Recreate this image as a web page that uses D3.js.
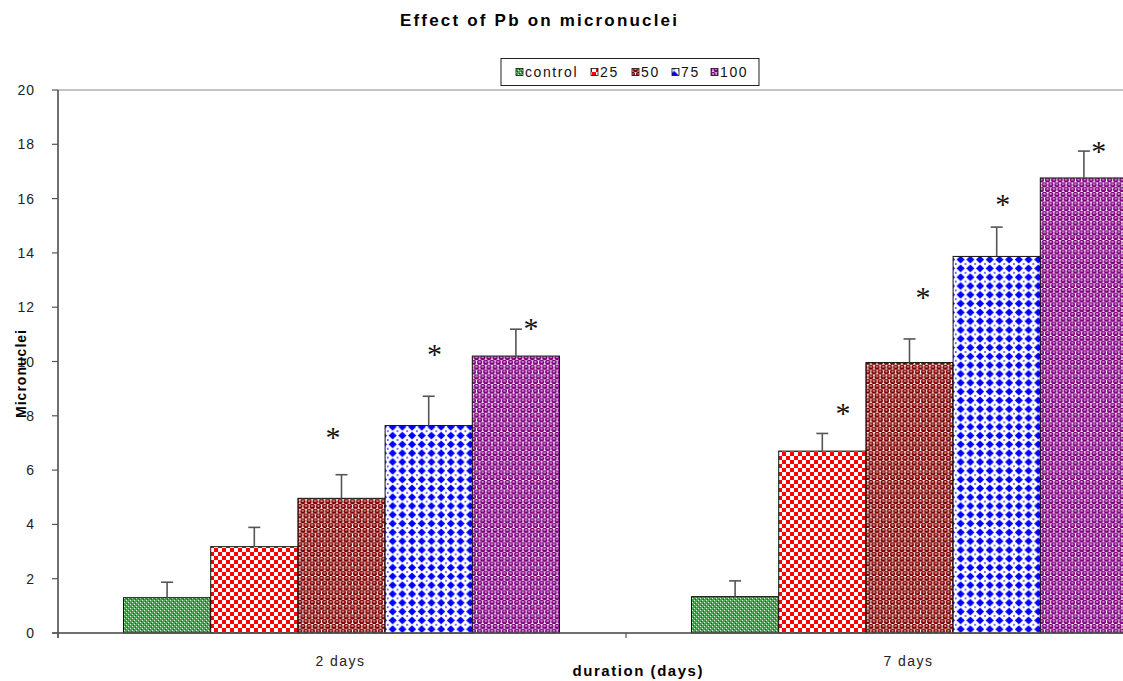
<!DOCTYPE html>
<html>
<head>
<meta charset="utf-8">
<script src="https://cdn.jsdelivr.net/npm/d3@7/dist/d3.min.js"></script>
<style>
  html, body { margin: 0; padding: 0; background: #fff; }
  svg { display: block; }
</style>
</head>
<body>
<svg id="chart" width="1123" height="681"></svg>
<script>
// ---------------- data ----------------
const categories = ["2 days", "7 days"];
const seriesNames = ["control", "25", "50", "75", "100"];
const means2days = [1.30, 3.18, 4.96, 7.64, 10.20];
const means7days = [1.34, 6.70, 9.96, 13.87, 16.76];
const err2days = [0.57, 0.71, 0.87, 1.08, 0.99];
const err7days = [0.58, 0.65, 0.87, 1.08, 0.99];
const star2days = [null, null, 7.41, 10.49, 11.43];
const star7days = [null, 8.31, 12.57, 16.01, 17.97];
const yTicks = [0, 2, 4, 6, 8, 10, 12, 14, 16, 18, 20];

// ---------------- layout / style ----------------
const plotLeft = 58, plotTop = 90, plotBottom = 633, plotRight = 1194;
const starDx = [[0, 0, -8.6, 5.7, 15.1], [0, 20.8, 13.4, 6.1, 14.8]];
const legendX = [516, 591, 632, 672, 711];

const table = categories.map((c, ci) => ({
  cat: c,
  values: seriesNames.map((s, si) => ({
    series: s, si, ci,
    mean: ci === 0 ? means2days[si] : means7days[si],
    err: ci === 0 ? err2days[si] : err7days[si],
    star: ci === 0 ? star2days[si] : star7days[si]
  }))
}));

const svg = d3.select("#chart");

// ---------------- patterns ----------------
const defs = svg.append("defs");
(function () {
  const p = defs.append("pattern").attr("id", "pat0").attr("patternUnits", "userSpaceOnUse")
    .attr("width", 4).attr("height", 4);
  p.append("rect").attr("width", 4).attr("height", 4).attr("fill", "#46a846");
  p.append("rect").attr("x", 0).attr("y", 0).attr("width", 1).attr("height", 1).attr("fill", "#dff3df");
  p.append("rect").attr("x", 2).attr("y", 2).attr("width", 1).attr("height", 1).attr("fill", "#dff3df");
  p.append("rect").attr("x", 1).attr("y", 3).attr("width", 1).attr("height", 1).attr("fill", "#0a700a");
  p.append("rect").attr("x", 3).attr("y", 1).attr("width", 1).attr("height", 1).attr("fill", "#0a700a");
})();
(function () {
  const p = defs.append("pattern").attr("id", "pat1").attr("patternUnits", "userSpaceOnUse")
    .attr("width", 8).attr("height", 8);
  p.append("rect").attr("width", 8).attr("height", 8).attr("fill", "#ffffff");
  p.append("rect").attr("x", 0).attr("y", 0).attr("width", 4).attr("height", 4).attr("fill", "#ff0000");
  p.append("rect").attr("x", 4).attr("y", 4).attr("width", 4).attr("height", 4).attr("fill", "#ff0000");
})();
function bubbles(id, col, hi) {
  const w = 6.2, h = 9.6, r = 2.7;
  const p = defs.append("pattern").attr("id", id).attr("patternUnits", "userSpaceOnUse")
    .attr("width", w).attr("height", h);
  p.append("rect").attr("width", w).attr("height", h).attr("fill", "#ffffff");
  [[w / 2, h / 4], [0, 3 * h / 4], [w, 3 * h / 4]].forEach(([cx, cy]) => {
    p.append("circle").attr("cx", cx).attr("cy", cy).attr("r", r).attr("fill", col);
    p.append("ellipse").attr("cx", cx).attr("cy", cy - 0.4).attr("rx", 1.3).attr("ry", 0.7).attr("fill", hi);
  });
}
bubbles("pat2", "#800000", "#f0d0d0");
bubbles("pat4", "#800080", "#f0d0f0");
(function () {
  const w = 9.7, h = 8.8;
  const p = defs.append("pattern").attr("id", "pat3").attr("patternUnits", "userSpaceOnUse")
    .attr("width", w).attr("height", h);
  p.append("rect").attr("width", w).attr("height", h).attr("fill", "#ffffff");
  const cx = w / 2, cy = h / 2, a = 4.1, b = 3.8;
  p.append("path").attr("d", `M${cx},${cy - b}L${cx + a},${cy}L${cx},${cy + b}L${cx - a},${cy}Z`).attr("fill", "#0000ff");
  [[0, 0], [w, 0], [0, h], [w, h]].forEach(([x, y]) => {
    p.append("circle").attr("cx", x).attr("cy", y).attr("r", 1.0).attr("fill", "#4040ff");
  });
})();
const fills = ["url(#pat0)", "url(#pat1)", "url(#pat2)", "url(#pat3)", "url(#pat4)"];

// ---------------- scales ----------------
const y = d3.scaleLinear().domain([0, 20]).range([plotBottom, plotTop]);
const x0 = d3.scaleBand().domain(categories).range([plotLeft, plotRight]).padding(0);
const x1 = d3.scaleBand().domain(seriesNames).range([65.5, x0.bandwidth() - 66.5]).padding(0);

// ---------------- title ----------------
svg.append("text")
  .attr("x", 538.5).attr("y", 26)
  .attr("text-anchor", "middle")
  .attr("font-family", "Liberation Sans, Arial, sans-serif")
  .attr("font-weight", "bold").attr("font-size", 17)
  .attr("textLength", 277)
  .attr("fill", "#000")
  .text("Effect of Pb on micronuclei");

svg.append("rect")
  .attr("x", plotLeft).attr("y", plotTop)
  .attr("width", plotRight - plotLeft).attr("height", plotBottom - plotTop)
  .attr("fill", "none").attr("stroke", "#8a8a8a").attr("stroke-width", 1);

// ---------------- bars ----------------
const groups = svg.append("g").selectAll("g").data(table).join("g")
  .attr("transform", d => `translate(${x0(d.cat)},0)`);

groups.selectAll("rect.bar").data(d => d.values).join("rect")
  .attr("class", "bar")
  .attr("x", d => x1(d.series))
  .attr("y", d => y(d.mean))
  .attr("width", x1.bandwidth())
  .attr("height", d => y(0) - y(d.mean))
  .attr("fill", d => fills[d.si])
  .attr("stroke", "#111").attr("stroke-width", 1);

groups.selectAll("line.err").data(d => d.values).join("line")
  .attr("class", "err")
  .attr("x1", d => x1(d.series) + x1.bandwidth() / 2)
  .attr("x2", d => x1(d.series) + x1.bandwidth() / 2)
  .attr("y1", d => y(d.mean))
  .attr("y2", d => y(d.mean + d.err))
  .attr("stroke", "#555").attr("stroke-width", 1.6);
groups.selectAll("line.cap").data(d => d.values).join("line")
  .attr("class", "cap")
  .attr("x1", d => x1(d.series) + x1.bandwidth() / 2 - 6)
  .attr("x2", d => x1(d.series) + x1.bandwidth() / 2 + 6)
  .attr("y1", d => y(d.mean + d.err))
  .attr("y2", d => y(d.mean + d.err))
  .attr("stroke", "#555").attr("stroke-width", 1.6);

const starFs = 30;
groups.selectAll("text.star").data(d => d.values.filter(v => v.star !== null)).join("text")
  .attr("class", "star")
  .attr("x", d => x1(d.series) + x1.bandwidth() / 2 + starDx[d.ci][d.si])
  .attr("y", d => y(d.star) + starFs * 0.52)
  .attr("text-anchor", "middle")
  .attr("font-family", "Liberation Serif, Times New Roman, serif")
  .attr("font-size", starFs)
  .attr("fill", "#111")
  .text("*");

// ---------------- axes ----------------
const yAxis = svg.append("g");
yAxis.append("line").attr("x1", plotLeft).attr("x2", plotLeft)
  .attr("y1", plotTop).attr("y2", plotBottom + 5)
  .attr("stroke", "#555").attr("stroke-width", 1.5);
yAxis.selectAll("line.tick").data(yTicks).join("line")
  .attr("class", "tick")
  .attr("x1", plotLeft - 6).attr("x2", plotLeft)
  .attr("y1", d => y(d)).attr("y2", d => y(d))
  .attr("stroke", "#555").attr("stroke-width", 1.2);
yAxis.selectAll("text").data(yTicks).join("text")
  .attr("x", 35).attr("y", d => y(d)).attr("dy", "0.36em")
  .attr("text-anchor", "end")
  .attr("font-family", "Liberation Sans, Arial, sans-serif")
  .attr("font-size", 14).attr("letter-spacing", 1)
  .attr("fill", "#222")
  .text(d => d);

const xAxis = svg.append("g");
xAxis.append("line").attr("x1", plotLeft - 6).attr("x2", plotRight)
  .attr("y1", plotBottom).attr("y2", plotBottom)
  .attr("stroke", "#555").attr("stroke-width", 1.3);
const boundaries = categories.map(c => x0(c)).concat([x0(categories[categories.length - 1]) + x0.bandwidth()]);
xAxis.selectAll("line.tick").data(boundaries).join("line")
  .attr("class", "tick")
  .attr("x1", d => d).attr("x2", d => d)
  .attr("y1", plotBottom).attr("y2", plotBottom + 5)
  .attr("stroke", "#555").attr("stroke-width", 1.2);
xAxis.selectAll("text").data(categories).join("text")
  .attr("x", d => x0(d) + x0.bandwidth() / 2 - 1.5)
  .attr("y", 666)
  .attr("text-anchor", "middle")
  .attr("font-family", "Liberation Sans, Arial, sans-serif")
  .attr("font-size", 14).attr("letter-spacing", 1.5)
  .attr("fill", "#222")
  .text(d => d);

svg.append("text")
  .attr("x", 637.5).attr("y", 676)
  .attr("text-anchor", "middle")
  .attr("font-family", "Liberation Sans, Arial, sans-serif")
  .attr("font-weight", "bold").attr("font-size", 15)
  .attr("textLength", 130)
  .attr("fill", "#000")
  .text("duration (days)");
svg.append("text")
  .attr("transform", "translate(26,374) rotate(-90)")
  .attr("text-anchor", "middle")
  .attr("font-family", "Liberation Sans, Arial, sans-serif")
  .attr("font-weight", "bold").attr("font-size", 14)
  .attr("textLength", 88)
  .attr("fill", "#000")
  .text("Micronuclei");

// ---------------- legend ----------------
const legend = svg.append("g");
legend.append("rect")
  .attr("x", 501).attr("y", 58.5).attr("width", 258).attr("height", 27)
  .attr("fill", "#fff").attr("stroke", "#222").attr("stroke-width", 1);
const li = legend.selectAll("g.item").data(seriesNames).join("g").attr("class", "item");
li.append("rect")
  .attr("x", (d, i) => legendX[i]).attr("y", 68.5)
  .attr("width", 7).attr("height", 7)
  .attr("fill", (d, i) => fills[i])
  .attr("stroke", "#111").attr("stroke-width", 0.8);
li.append("text")
  .attr("x", (d, i) => legendX[i] + 9).attr("y", 77)
  .attr("font-family", "Liberation Sans, Arial, sans-serif")
  .attr("font-size", 14).attr("letter-spacing", 1.6)
  .attr("fill", "#111")
  .text(d => d);
</script>
</body>
</html>
